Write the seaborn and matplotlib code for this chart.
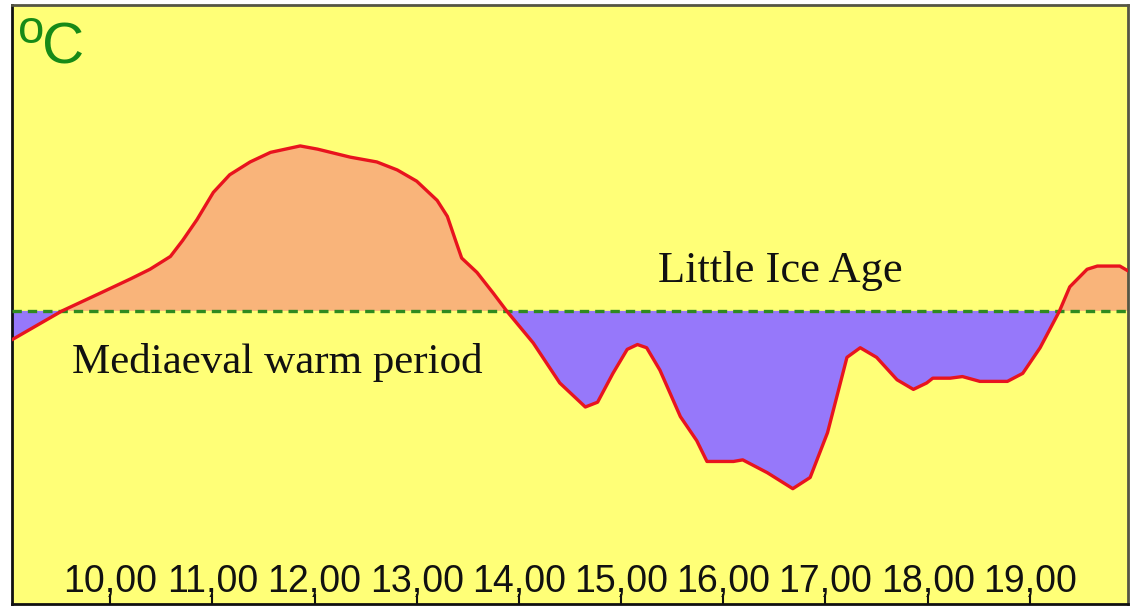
import numpy as np
import pandas as pd
import seaborn as sns
import matplotlib.pyplot as plt

# century (10 = year 1000) and temperature anomaly
century = [9.04, 9.53, 9.90, 10.20, 10.39, 10.59, 10.71, 10.85, 11.01, 11.17,
           11.37, 11.57, 11.86, 12.03, 12.35, 12.61, 12.81, 13.00, 13.20, 13.30,
           13.38, 13.44, 13.59, 13.75, 13.88, 14.14, 14.40, 14.65, 14.77, 14.92,
           15.06, 15.16, 15.25, 15.38, 15.58, 15.74, 15.84, 16.10, 16.19, 16.43,
           16.68, 16.85, 17.02, 17.21, 17.34, 17.50, 17.70, 17.86, 17.99, 18.05,
           18.22, 18.34, 18.51, 18.78, 18.93, 19.10, 19.29, 19.39, 19.56, 19.66,
           19.88, 19.96]
anomaly = [-0.18, 0.00, 0.11, 0.20, 0.26, 0.34, 0.44, 0.57, 0.74, 0.85,
           0.93, 0.99, 1.03, 1.01, 0.96, 0.93, 0.88, 0.81, 0.69, 0.59,
           0.44, 0.33, 0.24, 0.11, 0.00, -0.20, -0.45, -0.60, -0.57, -0.39,
           -0.24, -0.21, -0.23, -0.37, -0.66, -0.81, -0.94, -0.94, -0.93, -1.01,
           -1.11, -1.04, -0.76, -0.29, -0.23, -0.29, -0.43, -0.49, -0.45, -0.42,
           -0.42, -0.41, -0.44, -0.44, -0.39, -0.23, 0.00, 0.15, 0.26, 0.28,
           0.28, 0.25]
tick_pos = [10, 11, 12, 13, 14, 15, 16, 17, 18, 19]
tick_labels = ["10,00", "11,00", "12,00", "13,00", "14,00",
               "15,00", "16,00", "17,00", "18,00", "19,00"]

df = pd.DataFrame({"century": century, "anomaly": anomaly})

sns.set_theme(style="ticks")
plt.rcParams["font.family"] = ["Liberation Sans", "DejaVu Sans"]

fig = plt.figure(figsize=(11.31, 6.07), dpi=100, facecolor="white")
ax = fig.add_axes([12/1131, 3/607, 1116/1131, 599/607])
ax.set_facecolor("#FFFF77")

x = df["century"].values
y = df["anomaly"].values
ax.fill_between(x, y, 0, where=y >= 0, interpolate=True, color="#F9B47A", lw=0)
ax.fill_between(x, y, 0, where=y <= 0, interpolate=True, color="#9678FA", lw=0)
ax.axhline(0, color="#2F8A1F", lw=2.4, ls=(0, (2.8, 1.8)), zorder=3)
sns.lineplot(data=df, x="century", y="anomaly", color="#E8141E", lw=2.4,
             ax=ax, zorder=4)

ax.set_xlim(9.04, 19.96)
ax.set_ylim(-1.83, 1.91)
ax.set_xlabel("")
ax.set_ylabel("")
ax.set_yticks([])
ax.set_xticks(tick_pos)
ax.set_xticklabels(tick_labels, fontsize=27, color="#111111")
ax.tick_params(axis="x", direction="in", length=7, width=1.5, pad=-28.5,
               color="#111111")

for side in ["left", "bottom"]:
    ax.spines[side].set_color("#111111")
    ax.spines[side].set_linewidth(2)
for side in ["top", "right"]:
    ax.spines[side].set_color("#555544")
    ax.spines[side].set_linewidth(2)

ax.text(0.005, 0.937, "o", transform=ax.transAxes, fontsize=34,
        color="#178A17", va="baseline", ha="left")
ax.text(0.027, 0.903, "C", transform=ax.transAxes, fontsize=42,
        color="#178A17", va="baseline", ha="left")

serif = ["Liberation Serif", "DejaVu Serif"]
ax.text(15.36, 0.18, "Little Ice Age", family=serif, fontsize=32,
        color="#111111", va="baseline", ha="left", zorder=5)
ax.text(9.63, -0.39, "Mediaeval warm period", family=serif, fontsize=31,
        color="#111111", va="baseline", ha="left", zorder=5)

fig.savefig("out.png", dpi=100, facecolor="white")
